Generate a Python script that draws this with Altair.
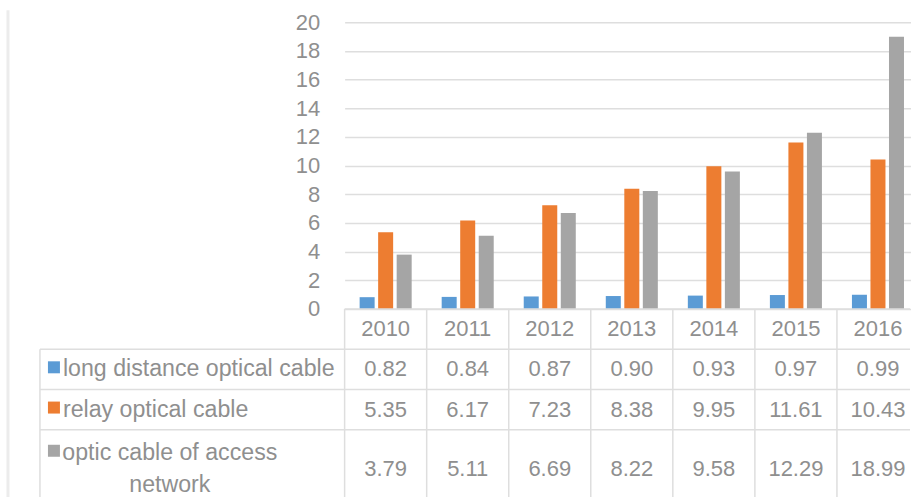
import altair as alt
import pandas as pd

# ---- data -------------------------------------------------------------
years = ["2010", "2011", "2012", "2013", "2014", "2015", "2016"]
series = [
    "long distance optical cable",
    "relay optical cable",
    "optic cable of access network",
]
long_distance = [0.82, 0.84, 0.87, 0.90, 0.93, 0.97, 0.99]
relay = [5.35, 6.17, 7.23, 8.38, 9.95, 11.61, 10.43]
access = [3.79, 5.11, 6.69, 8.22, 9.58, 12.29, 18.99]
y_ticks = [0, 2, 4, 6, 8, 10, 12, 14, 16, 18, 20]

# label text as shown in the legend column of the data table
series_text = [
    "long distance optical cable",
    "relay optical cable",
    "optic cable of access\nnetwork",
]

# ---- style ------------------------------------------------------------
colors = ["#5b9bd5", "#ed7d31", "#a5a5a5"]
FONT = "Liberation Sans"
TEXT = "#8f8f8f"
LINE = "#dedede"
FS = 22          # numbers and years
FS_LABEL = 23.2  # series names in the table

# ---- layout ------------------------------------------------------------
PLOT_W, PLOT_H = 566, 287        # bar panel
LABEL_W, TABLE_H = 345, 190      # legend column width, visible table height
BAND_RANGE = [0, 575]            # seven table columns, the last one runs past the edge
row_heights = [1.0, 1.0, 1.0, 1.94]   # header row, then one row per series
ROW_PX = 40.3
LINE_H = 32
table_domain = [0, TABLE_H / ROW_PX]

row_tops = [sum(row_heights[:i]) for i in range(len(row_heights))]
row_centers = [t + h / 2 for t, h in zip(row_tops, row_heights)]

values = {s: v for s, v in zip(series, [long_distance, relay, access])}
bars_df = pd.DataFrame(
    [{"year": y, "series": s, "value": values[s][i]}
     for s in series for i, y in enumerate(years)]
)

cells_df = pd.DataFrame(
    [{"year": y, "yc": row_centers[k + 1], "label": f"{values[s][i]:.2f}"}
     for k, s in enumerate(series) for i, y in enumerate(years)]
)
header_df = pd.DataFrame({"year": years, "yc": [row_centers[0]] * len(years)})
hlines_df = pd.DataFrame({"pos": row_tops})
vlines_df = pd.DataFrame({"year": years})

# first text line of each legend row (wrapped labels are centred as a block)
line_units = LINE_H / ROW_PX
first_line = [
    row_centers[k + 1] - t.count("\n") * line_units / 2
    for k, t in enumerate(series_text)
]
keys_df = pd.DataFrame({
    "series": series,
    "text": series_text,
    "ytext": first_line,
    "ykey": [v - 0.05 for v in first_line],
})

x_scale = alt.Scale(domain=years, range=BAND_RANGE, paddingInner=0, paddingOuter=0)
t_scale = alt.Scale(domain=table_domain, reverse=True, nice=False, zero=False)

# ---- bar panel ----------------------------------------------------------
bars = alt.Chart(bars_df).mark_bar().encode(
    x=alt.X("year:N", sort=years, scale=x_scale, axis=None),
    xOffset=alt.XOffset(
        "series:N", sort=series,
        scale=alt.Scale(domain=series, paddingInner=0.19, paddingOuter=0.81),
    ),
    y=alt.Y(
        "value:Q",
        scale=alt.Scale(domain=[0, 20], nice=False),
        axis=alt.Axis(
            values=y_ticks, title=None, domain=False, ticks=False, tickSize=0,
            labelPadding=25, labelFontSize=FS, labelFont=FONT, labelColor=TEXT,
            gridColor=LINE, gridWidth=1.5,
        ),
    ),
    color=alt.Color("series:N", scale=alt.Scale(domain=series, range=colors), legend=None),
).properties(width=PLOT_W, height=PLOT_H)

# empty corner with the frame edge on the far left
corner = alt.Chart(pd.DataFrame({"a": [0]})).mark_rule(
    color="#ececec", strokeWidth=3
).encode(
    x=alt.value(8), y=alt.value(-12), y2=alt.value(PLOT_H + TABLE_H)
).properties(width=LABEL_W, height=PLOT_H)

# ---- data table: year columns ---------------------------------------------
hl = alt.Chart(hlines_df).mark_rule(color=LINE, strokeWidth=1.5).encode(
    y=alt.Y("pos:Q", scale=t_scale, axis=None)
)
vl = alt.Chart(vlines_df).mark_rule(color=LINE, strokeWidth=1.5).encode(
    x=alt.X("year:N", sort=years, scale=x_scale, axis=None, bandPosition=0)
)
header = alt.Chart(header_df).mark_text(
    font=FONT, fontSize=FS, color=TEXT, baseline="middle"
).encode(
    x=alt.X("year:N", sort=years, scale=x_scale, axis=None),
    y=alt.Y("yc:Q", scale=t_scale, axis=None),
    text="year:N",
)
cells = alt.Chart(cells_df).mark_text(
    font=FONT, fontSize=FS, color=TEXT, baseline="middle"
).encode(
    x=alt.X("year:N", sort=years, scale=x_scale, axis=None),
    y=alt.Y("yc:Q", scale=t_scale, axis=None),
    text="label:N",
)
table = alt.layer(hl, vl, header, cells).properties(width=PLOT_W, height=TABLE_H)

# ---- data table: legend column --------------------------------------------
lab_h = alt.Chart(pd.DataFrame({"pos": row_tops[1:]})).mark_rule(
    color=LINE, strokeWidth=1.5
).encode(
    y=alt.Y("pos:Q", scale=t_scale, axis=None),
    x=alt.value(40), x2=alt.value(LABEL_W),
)
lab_v = alt.Chart(pd.DataFrame({"top": [row_tops[1]], "bottom": [table_domain[1]]})).mark_rule(
    color=LINE, strokeWidth=1.5
).encode(
    x=alt.value(40),
    y=alt.Y("top:Q", scale=t_scale, axis=None),
    y2="bottom:Q",
)
keys = alt.Chart(keys_df).mark_square(size=144, opacity=1).encode(
    x=alt.value(54),
    y=alt.Y("ykey:Q", scale=t_scale, axis=None),
    color=alt.Color("series:N", scale=alt.Scale(domain=series, range=colors), legend=None),
)
single = alt.Chart(keys_df[~keys_df["text"].str.contains("\n")]).mark_text(
    font=FONT, fontSize=FS_LABEL, color=TEXT, align="left", baseline="middle"
).encode(
    x=alt.value(63),
    y=alt.Y("ytext:Q", scale=t_scale, axis=None),
    text="text:N",
)
wrapped = alt.Chart(keys_df[keys_df["text"].str.contains("\n")]).mark_text(
    font=FONT, fontSize=FS_LABEL, color=TEXT, align="center", baseline="middle",
    lineBreak="\n", lineHeight=LINE_H,
).encode(
    x=alt.value(170),
    y=alt.Y("ytext:Q", scale=t_scale, axis=None),
    text="text:N",
)
legend_col = alt.layer(lab_h, lab_v, keys, single, wrapped).properties(
    width=LABEL_W, height=TABLE_H
)

chart = alt.concat(
    corner, bars, legend_col, table, columns=2, spacing=0, bounds="flush"
).properties(
    padding={"top": 8, "left": 0, "right": 0, "bottom": 0}
).configure_view(strokeWidth=0)

chart.save("out.html", embed_options={"renderer": "svg", "actions": False})
